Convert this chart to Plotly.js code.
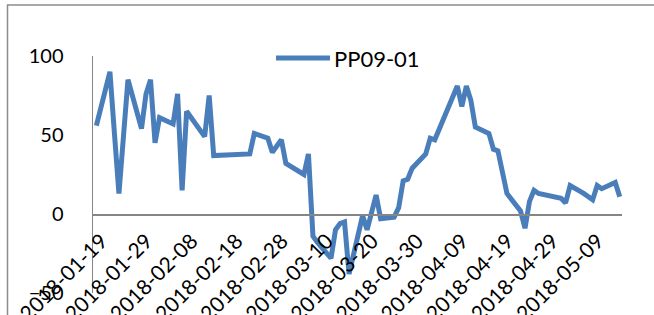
<!DOCTYPE html>
<html>
<head>
<meta charset="utf-8">
<script src="https://cdn.plot.ly/plotly-3.0.1.min.js"></script>
<style>
  html, body { margin: 0; padding: 0; background: #ffffff; }
  #chart { width: 654px; height: 315px; }
</style>
</head>
<body>
<div id="chart"></div>
<script>
// ---- data ----
const seriesName = 'PP09-01';
const dates = [
  '2018-01-19','2018-01-22','2018-01-23','2018-01-24','2018-01-25','2018-01-26',
  '2018-01-29','2018-01-30','2018-01-31','2018-02-01','2018-02-02',
  '2018-02-05','2018-02-06','2018-02-07','2018-02-08','2018-02-09',
  '2018-02-12','2018-02-13','2018-02-14',
  '2018-02-22','2018-02-23',
  '2018-02-26','2018-02-27','2018-02-28','2018-03-01','2018-03-02',
  '2018-03-05','2018-03-06','2018-03-07','2018-03-08','2018-03-09',
  '2018-03-12','2018-03-13','2018-03-14','2018-03-15','2018-03-16',
  '2018-03-19','2018-03-20','2018-03-21','2018-03-22','2018-03-23',
  '2018-03-26','2018-03-27','2018-03-28','2018-03-29','2018-03-30',
  '2018-04-02','2018-04-03','2018-04-04',
  '2018-04-09','2018-04-10','2018-04-11','2018-04-12','2018-04-13',
  '2018-04-16','2018-04-17','2018-04-18','2018-04-19','2018-04-20',
  '2018-04-23','2018-04-24','2018-04-25','2018-04-26','2018-04-27',
  '2018-05-02','2018-05-03','2018-05-04',
  '2018-05-07','2018-05-08','2018-05-09','2018-05-10','2018-05-11',
  '2018-05-14','2018-05-15'
];
const values = [
  56, 90, 51, 13, 49, 85,
  54, 76, 85, 45, 61,
  57, 76, 15, 65, 61,
  49, 75, 37,
  38, 51,
  48, 39, 43, 47, 32,
  27, 25, 38, -14, -18,
  -28, -10, -6, -5, -38,
  -1, -10, 1, 12, -3,
  -2, 4, 21, 22, 29,
  38, 48, 47,
  81, 68, 81, 72, 55,
  51, 41, 40, 27, 13,
  2, -9, 8, 15, 13,
  10, 7, 18,
  13, 11, 9, 18, 16,
  20, 11
];
const yTicks = [-50, 0, 50, 100];
const xTickStart = '2018-01-19';

// ---- layout geometry (pixels) ----
const W = 654, H = 315;
const L = 93, R = 32, T = 56, B = 22;
const PW = W - L - R, PH = H - T - B;
const px2x = p => (p - L) / PW;
const py2y = p => (H - B - p) / PH;

const axisGrey = '#868686';
const lineBlue = '#4A7EBB';
const fontFam = 'Lato, "Open Sans", sans-serif';

const trace = {
  type: 'scatter',
  mode: 'lines',
  x: dates,
  y: values,
  name: seriesName,
  line: { color: lineBlue, width: 5, shape: 'linear' },
  showlegend: false,
  hoverinfo: 'x+y'
};

// legend key (line sample + series name)
const legY = 58;
const layout = {
  width: W, height: H,
  margin: { l: L, r: R, t: T, b: B, pad: 0 },
  paper_bgcolor: '#ffffff',
  plot_bgcolor: 'rgba(0,0,0,0)',
  font: { family: fontFam, size: 20, color: '#000000' },
  showlegend: false,
  xaxis: {
    type: 'date',
    range: ['2018-01-18 06:00', '2018-05-15 12:00'],
    tick0: xTickStart,
    dtick: 10 * 24 * 3600 * 1000,
    tickformat: '%Y-%m-%d',
    tickangle: -45,
    ticks: '',
    ticklabelstandoff: 5,
    ticklabelshift: 5,
    showgrid: false,
    zeroline: false,
    showline: true,
    linecolor: axisGrey,
    linewidth: 1.5,
    anchor: 'free',
    position: (0 - (-50)) / 150,
    tickfont: { family: fontFam, size: 21, color: '#000000' },
    fixedrange: true
  },
  yaxis: {
    range: [-50, 100],
    tickvals: yTicks,
    ticks: '',
    ticklabelstandoff: 24,
    showgrid: false,
    zeroline: false,
    showline: true,
    linecolor: axisGrey,
    linewidth: 1.5,
    tickfont: { family: fontFam, size: 20, color: '#000000' },
    fixedrange: true
  },
  shapes: [
    {
      type: 'rect', xref: 'paper', yref: 'paper', layer: 'below',
      x0: px2x(7.5), x1: px2x(700), y0: py2y(360), y1: py2y(5),
      line: { color: '#8c8c8c', width: 1.5 },
      fillcolor: 'rgba(0,0,0,0)'
    },
    {
      type: 'line', xref: 'paper', yref: 'paper',
      x0: px2x(276), x1: px2x(330), y0: py2y(legY), y1: py2y(legY),
      line: { color: lineBlue, width: 5 }
    }
  ],
  annotations: [
    {
      xref: 'paper', yref: 'paper',
      x: px2x(332), y: py2y(legY),
      xanchor: 'left', yanchor: 'middle',
      text: seriesName, showarrow: false,
      font: { family: fontFam, size: 22, color: '#000000' }
    }
  ]
};

Plotly.newPlot('chart', [trace], layout, { displayModeBar: false, staticPlot: true });
</script>
</body>
</html>
